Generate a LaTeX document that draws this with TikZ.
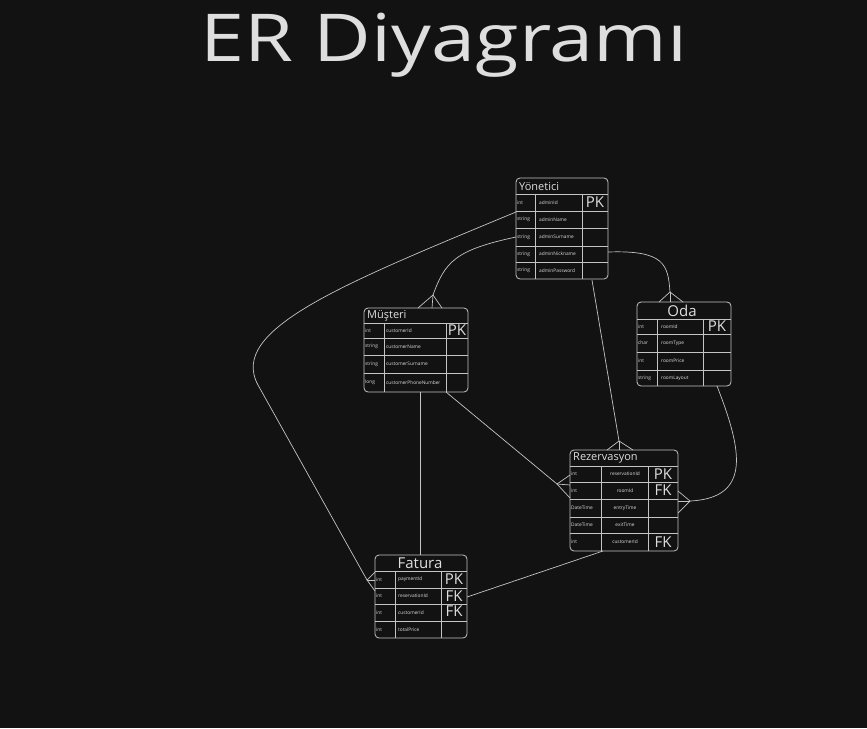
\documentclass[tikz,border=0pt]{standalone}
\usepackage{fontspec}
\setmainfont{Open Sans}
\newfontfamily\titlefont[FakeStretch=1.2]{Open Sans}
\definecolor{bg}{HTML}{121212}
\definecolor{ink}{HTML}{C4C4C4}
\definecolor{txt}{HTML}{DEDEDE}
\tikzset{
    tbl/.style={draw=ink, rounded corners=4pt, line width=0.8pt, inner sep=0pt, outer sep=0pt, anchor=north west},
    grid/.style={draw=ink, line width=0.6pt},
    link/.style={draw=ink, line width=0.7pt},
    ttl/.style={text=txt, font=\fontsize{11}{11}\selectfont, anchor=west, inner sep=0pt},
    bigttl/.style={text=txt, font=\fontsize{15}{15}\selectfont, inner sep=0pt},
    typ/.style={text=txt, font=\fontsize{4.8}{5}\selectfont, anchor=west, inner sep=0pt},
    key/.style={text=txt, font=\fontsize{15}{15}\selectfont, inner sep=0pt}
}
\begin{document}
\begin{tikzpicture}[x=1pt,y=-1pt]
    \fill[bg] (0,0) rectangle (867,728);
    \useasboundingbox (0,0) rectangle (867,728);
    %% title
    \node[text=txt, font=\titlefont\fontsize{66}{66}\selectfont, inner sep=0pt, anchor=base] (title) at (444,61) {ER Diyagramı};

    %% Yonetici
    \node[tbl, minimum width=92pt, minimum height=101pt] (yon) at (516,178) {};
    \node[ttl] (yon-ttl) at (519,187) {Yönetici};
    \foreach \y in {194,211,228,246,262} \draw[grid] (516,\y) -- (608,\y);
    \foreach \x in {535,582} \draw[grid] (\x,194) -- (\x,279);
    \foreach \y/\t/\n [count=\i] in {202.5/int/adminId, 219.5/string/adminName, 237/string/adminSurname, 254/string/adminNickname, 270.5/string/adminPassword} {
        \node[typ] (yon-t\i) at (517,\y) {\t};
        \node[typ] (yon-n\i) at (539,\y) {\n};
    }
    \node[key] (yon-k1) at (595,202.5) {PK};

    %% Musteri
    \node[tbl, minimum width=104pt, minimum height=84pt] (mus) at (364,308) {};
    \node[ttl] (mus-ttl) at (367,316) {Müşteri};
    \foreach \y in {323,338,355,373} \draw[grid] (364,\y) -- (468,\y);
    \foreach \x in {384,446} \draw[grid] (\x,323) -- (\x,392);
    \foreach \y/\t/\n [count=\i] in {330.5/int/customerId, 346.5/string/customerName, 364/string/customerSurname, 382.5/long/customerPhoneNumber} {
        \node[typ] (mus-t\i) at (365,\y) {\t};
        \node[typ] (mus-n\i) at (386,\y) {\n};
    }
    \node[key] (mus-k1) at (457,330.5) {PK};

    %% Oda
    \node[tbl, minimum width=94pt, minimum height=84pt] (oda) at (637,302) {};
    \node[bigttl] (oda-ttl) at (682,310.5) {Oda};
    \foreach \y in {319,334,352,370} \draw[grid] (637,\y) -- (731,\y);
    \foreach \x in {657,703} \draw[grid] (\x,319) -- (\x,386);
    \foreach \y/\t/\n [count=\i] in {326.5/int/roomId, 343/char/roomType, 361/int/roomPrice, 378/string/roomLayout} {
        \node[typ] (oda-t\i) at (638,\y) {\t};
        \node[typ] (oda-n\i) at (661,\y) {\n};
    }
    \node[key] (oda-k1) at (717,326.5) {PK};

    %% Rezervasyon
    \node[tbl, minimum width=108pt, minimum height=101pt] (rez) at (570,450) {};
    \node[ttl] (rez-ttl) at (573,458) {Rezervasyon};
    \foreach \y in {466,482,499,517,533} \draw[grid] (570,\y) -- (678,\y);
    \foreach \x in {601,648} \draw[grid] (\x,466) -- (\x,551);
    \foreach \y/\t/\n [count=\i] in {474/int/reservationId, 490.5/int/roomId, 508/DateTime/entryTime, 525/DateTime/exitTime, 542/int/customerId} {
        \node[typ] (rez-t\i) at (571,\y) {\t};
        \node[typ, anchor=center] (rez-n\i) at (625,\y) {\n};
    }
    \node[key] (rez-k1) at (663,474) {PK};
    \node[key] (rez-k2) at (663,490.5) {FK};
    \node[key] (rez-k5) at (663,542) {FK};

    %% Fatura
    \node[tbl, minimum width=92pt, minimum height=83pt] (fat) at (375,555) {};
    \node[bigttl] (fat-ttl) at (420,563.5) {Fatura};
    \foreach \y in {571,588,604,621} \draw[grid] (375,\y) -- (467,\y);
    \foreach \x in {395,441} \draw[grid] (\x,571) -- (\x,638);
    \foreach \y/\t/\n [count=\i] in {579.5/int/paymentId, 596/int/reservationId, 613/int/customerId, 630/int/totalPrice} {
        \node[typ] (fat-t\i) at (376,\y) {\t};
        \node[typ] (fat-n\i) at (398,\y) {\n};
    }
    \node[key] (fat-k1) at (454,579.5) {PK};
    \node[key] (fat-k2) at (454,596) {FK};
    \node[key] (fat-k3) at (454,611) {FK};

    %% connector ends
    \coordinate (yon-a) at (516,212);
    \coordinate (yon-b) at (516,237);
    \coordinate (yon-c) at (608,252);
    \coordinate (yon-d) at (592,280);
    \coordinate (mus-a) at (433,295);
    \coordinate (mus-b) at (420,392);
    \coordinate (mus-c) at (446,392);
    \coordinate (oda-a) at (670,292);
    \coordinate (oda-b) at (717,386);
    \coordinate (rez-a) at (619,441);
    \coordinate (rez-b) at (557,484);
    \coordinate (rez-c) at (690,501);
    \coordinate (rez-d) at (603,551);
    \coordinate (fat-a) at (367,580);
    \coordinate (fat-b) at (420,555);
    \coordinate (fat-c) at (467,597);

    %% relations
    \draw[link] (yon-a) .. controls (340,285) and (228,330) .. (258,385) -- (fat-a);
    \draw[link] (yon-b) .. controls (455,250) and (445,262) .. (mus-a);
    \draw[link] (yon-c) .. controls (665,250) and (668,265) .. (oda-a);
    \draw[link] (yon-d) -- (rez-a);
    \draw[link] (mus-b) -- (fat-b);
    \draw[link] (mus-c) -- (rez-b);
    \draw[link] (oda-b) .. controls (742,450) and (752,498) .. (rez-c);
    \draw[link] (rez-d) -- (fat-c);

    %% crow's feet
    \foreach \p/\q in {418/308, 432/308, 442/308} \draw[link] (mus-a) -- (\p,\q);
    \foreach \p/\q in {659/302, 670/302, 683/302} \draw[link] (oda-a) -- (\p,\q);
    \foreach \p/\q in {607/450, 619/450, 633/450} \draw[link] (rez-a) -- (\p,\q);
    \foreach \p/\q in {570/475, 570/485, 570/498} \draw[link] (rez-b) -- (\p,\q);
    \foreach \p/\q in {678/491, 678/501, 678/513} \draw[link] (rez-c) -- (\p,\q);
    \foreach \p/\q in {375/572, 375/580, 375/591} \draw[link] (fat-a) -- (\p,\q);
\end{tikzpicture}
\end{document}
